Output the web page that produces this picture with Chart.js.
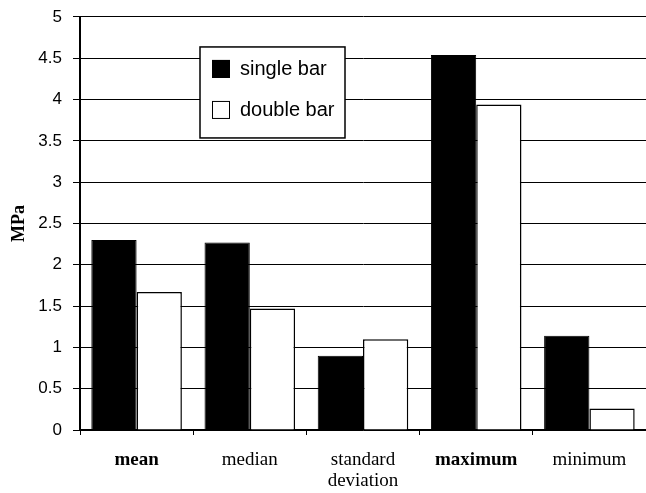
<!DOCTYPE html>
<html>
<head>
<meta charset="utf-8">
<script src="https://cdn.jsdelivr.net/npm/chart.js@4/dist/chart.umd.min.js"></script>
<style>
  html, body { margin: 0; padding: 0; background: #fff; }
  #wrap { width: 646px; height: 493px; position: relative; }
</style>
</head>
<body>
<div id="wrap"><canvas id="myChart"></canvas></div>
<script>
// Daten
const categories = ["mean", "median", ["standard", "deviation"], "maximum", "minimum"];
const boldCats = [0, 3];
const seriesNames = ["single bar", "double bar"];
const singleBar = [2.30, 2.27, 0.90, 4.54, 1.14];
const doubleBar = [1.67, 1.47, 1.10, 3.94, 0.26];
const yTicks = [0, 0.5, 1, 1.5, 2, 2.5, 3, 3.5, 4, 4.5, 5];

// Legende als Kasten im Diagramm
const boxLegend = {
  id: "boxLegend",
  afterDraw(chart) {
    const ctx = chart.ctx;
    const a = chart.chartArea;
    const x = a.left + 120, y = a.top + 30, w = 145, h = 91;
    ctx.save();
    ctx.fillStyle = "#fff";
    ctx.fillRect(x, y, w, h);
    ctx.strokeStyle = "#000";
    ctx.lineWidth = 1.5;
    ctx.strokeRect(x, y, w, h);
    ctx.font = "20px 'Liberation Sans', Arial, sans-serif";
    ctx.textBaseline = "middle";
    chart.data.datasets.forEach(function(ds, i) {
      const sy = y + 13 + i * 41;
      ctx.fillStyle = ds.backgroundColor;
      ctx.fillRect(x + 12, sy, 18, 18);
      ctx.lineWidth = 1;
      ctx.strokeStyle = "#000";
      ctx.strokeRect(x + 12.5, sy + 0.5, 17, 17);
      ctx.fillStyle = "#000";
      ctx.fillText(ds.label, x + 40, sy + 10);
    });
    ctx.restore();
  }
};

const data = {
  labels: categories,
  datasets: [
    {
      label: seriesNames[0],
      data: singleBar,
      backgroundColor: "#000",
      borderColor: "#000",
      borderWidth: 1
    },
    {
      label: seriesNames[1],
      data: doubleBar,
      backgroundColor: "#fff",
      borderColor: "#000",
      borderWidth: 1.5
    }
  ]
};

const config = {
  type: "bar",
  data: data,
  options: {
    responsive: true,
    maintainAspectRatio: false,
    animation: false,
    layout: { padding: { top: 12, right: 0, left: 0, bottom: 0 } },
    datasets: {
      bar: { categoryPercentage: 0.8, barPercentage: 1.0 }
    },
    scales: {
      x: {
        offset: true,
        grid: {
          offset: true,
          drawOnChartArea: false,
          color: "#000",
          tickLength: 5
        },
        border: { color: "#000", width: 1.5 },
        ticks: {
          color: "#000",
          padding: 15,
          maxRotation: 0,
          autoSkip: false,
          font: function(c) {
            return {
              family: "'Liberation Serif', 'Times New Roman', serif",
              size: 19,
              lineHeight: 1.1,
              weight: boldCats.includes(c.index) ? "bold" : "normal"
            };
          }
        },
        afterFit: function(scale) { scale.height = 63; }
      },
      y: {
        min: 0,
        max: 5,
        afterBuildTicks: function(scale) {
          scale.ticks = yTicks.map(function(v) { return { value: v }; });
        },
        grid: {
          color: "#000",
          lineWidth: 1,
          tickLength: 7
        },
        border: { color: "#000", width: 2 },
        ticks: {
          color: "#000",
          padding: 11,
          font: { family: "'Liberation Sans', Arial, sans-serif", size: 17, lineHeight: 0.7 },
          callback: function(v) { return String(v); }
        },
        title: {
          display: true,
          text: "MPa",
          color: "#000",
          padding: { top: 9, bottom: 0 },
          font: { family: "'Liberation Serif', 'Times New Roman', serif", size: 18, weight: "bold" }
        },
        afterFit: function(scale) { scale.width = 80; }
      }
    },
    plugins: {
      legend: { display: false },
      tooltip: { enabled: false }
    }
  },
  plugins: [boxLegend]
};

const myChart = new Chart(document.getElementById("myChart"), config);
</script>
</body>
</html>
